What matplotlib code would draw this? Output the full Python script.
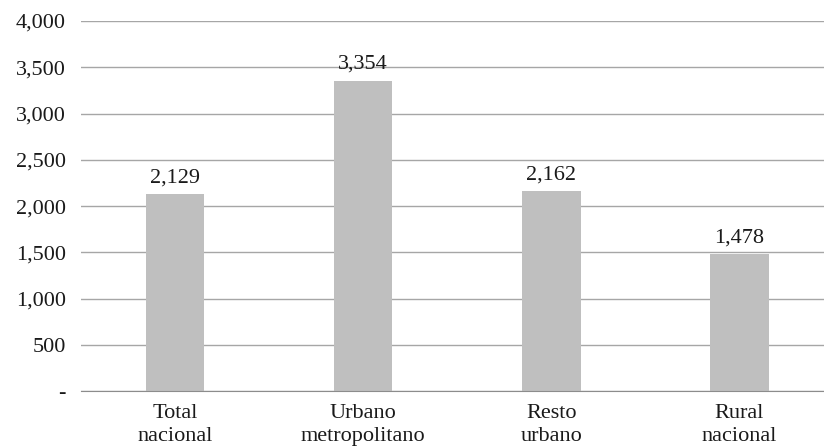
import matplotlib
matplotlib.use("Agg")
import matplotlib.pyplot as plt
from matplotlib.ticker import FuncFormatter, MultipleLocator

categories = ["Total\nnacional", "Urbano\nmetropolitano", "Resto\nurbano", "Rural\nnacional"]
values = [2129, 3354, 2162, 1478]

plt.rcParams["font.family"] = ["Liberation Serif", "DejaVu Serif"]
FS = 16

fig = plt.figure(figsize=(8.24, 4.47), dpi=100)
ax = fig.add_axes([0.0985, 0.125, 0.913, 0.828])

x = range(len(categories))
ax.bar(x, values, width=0.31, color="#bfbfbf", zorder=3)

for xi, v in zip(x, values):
    ax.text(xi, v + 75, f"{v:,}", ha="center", va="bottom", fontsize=FS, color="#1a1a1a")

ax.set_ylim(0, 4000)
ax.set_xlim(-0.5, len(categories) - 0.5)
ax.yaxis.set_major_locator(MultipleLocator(500))
ax.yaxis.set_major_formatter(FuncFormatter(lambda v, p: "-" if v == 0 else f"{int(v):,}"))
ax.grid(axis="y", color="#a6a6a6", linewidth=1, zorder=0)

ax.set_xticks(list(x))
ax.set_xticklabels(categories, fontsize=FS, color="#1a1a1a", linespacing=1.3)
ax.tick_params(axis="y", labelsize=FS, labelcolor="#1a1a1a", length=0, pad=11)
ax.tick_params(axis="x", length=0, pad=9)

for side in ["top", "right", "left"]:
    ax.spines[side].set_visible(False)
ax.spines["bottom"].set_color("#8c8c8c")
ax.spines["bottom"].set_zorder(4)

fig.savefig("out.png", dpi=100)
